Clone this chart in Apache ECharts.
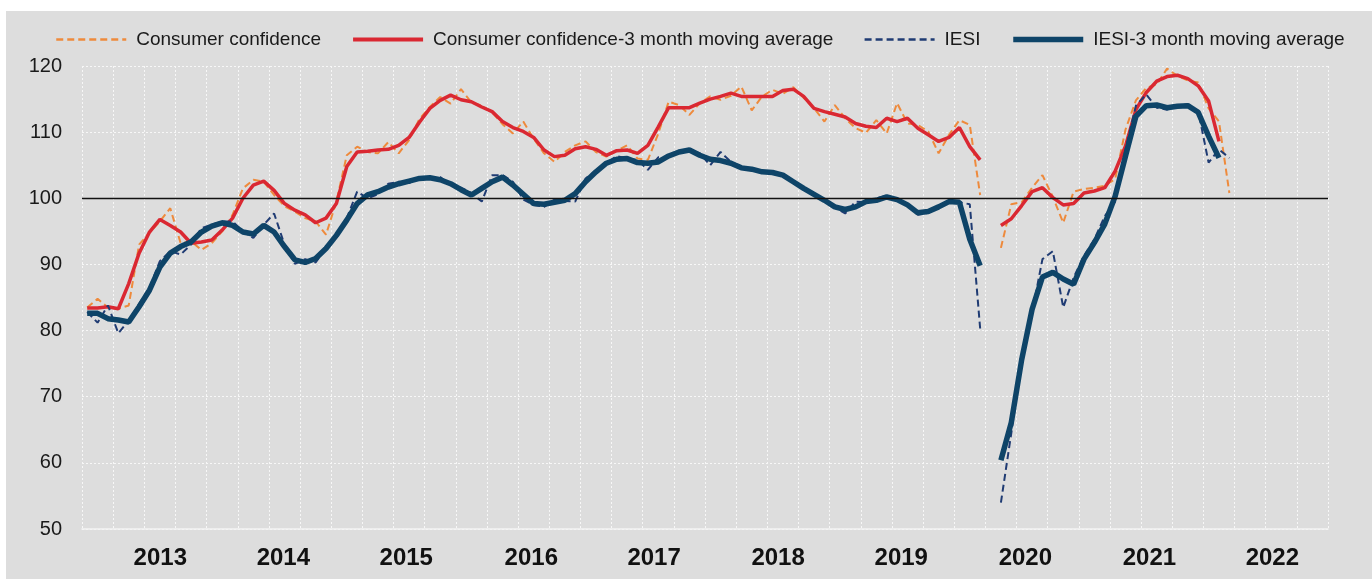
<!DOCTYPE html>
<html>
<head>
<meta charset="utf-8">
<script src="https://cdn.jsdelivr.net/npm/echarts@6/dist/echarts.min.js"></script>
<style>
  html, body { margin: 0; padding: 0; background: #ffffff; }
  #container { position: absolute; left: 6px; top: 11px; width: 1366px; height: 568px; background: #dddddd; }
</style>
</head>
<body>
<div id="container"></div>
<script>
var dom = document.getElementById("container");
var myChart = echarts.init(dom);
var option = null;

var fontMain = "'Liberation Sans', Arial, sans-serif";

// month categories Jan 2013 .. Dec 2022
var years = [2013, 2014, 2015, 2016, 2017, 2018, 2019, 2020, 2021, 2022];
var monthNames = ['01', '02', '03', '04', '05', '06', '07', '08', '09', '10', '11', '12'];
var months = [];
years.forEach(function (y) {
	monthNames.forEach(function (m) { months.push(y + '-' + m); });
});

// where the year labels sit, in months from the left edge of the axis
var yearLabelPos = [7.54, 19.39, 31.23, 43.27, 55.1, 67.04, 78.9, 90.85, 102.8, 114.64];

var consumerConfidence = [
	83.5, 84.8, 83.5, 83.3, 83.8, 93.0, 94.8, 96.5, 98.5, 93.2,
	93.5, 92.2, 93.2, 95.0, 97.5, 101.5, 102.8, 102.5, 100.5, 98.8,
	98.0, 97.0, 96.5, 94.5, 99.5, 106.5, 107.8, 107.0, 106.8, 108.5,
	106.8, 108.8, 112.0, 113.8, 115.3, 114.3, 116.5, 114.5, 114.0, 113.0,
	111.2, 109.8, 111.6, 109.0, 106.8, 105.5, 107.0, 108.0, 108.6, 107.0,
	106.3, 107.2, 108.0, 106.0, 105.8, 109.8, 114.6, 114.1, 112.6, 114.4,
	115.4, 114.9, 115.5, 116.9, 113.3, 115.4, 116.4, 115.8, 116.8, 115.2,
	113.6, 111.6, 114.1, 112.1, 110.6, 109.9, 111.8, 109.8, 114.4, 111.3,
	111.1, 110.1, 106.8, 109.6, 111.8, 111.1, 100.5, null, 92.5, 99.1,
	99.4, 101.6, 103.5, 100.2, 96.3, 101.0, 101.4, 101.6, 101.9, 102.9,
	110.4, 114.8, 116.7, 117.2, 119.6, 118.5, 117.8, 117.5, 113.6, 111.6,
	100.8
];

var consumerConfidenceMA = [
	83.4, 83.4, 83.6, 83.3, 87.1, 91.7, 94.9, 96.8, 95.9, 94.9,
	93.2, 93.4, 93.7, 95.2, 97.0, 100.0, 102.0, 102.6, 101.2, 99.2,
	98.2, 97.5, 96.3, 97.0, 99.2, 104.8, 107.0, 107.1, 107.3, 107.4,
	108.0, 109.2, 111.5, 113.6, 114.8, 115.6, 114.9, 114.6, 113.8, 113.1,
	111.6, 110.7, 110.1, 109.2, 107.3, 106.3, 106.5, 107.5, 107.8, 107.4,
	106.5, 107.2, 107.3, 106.8, 108.0, 110.8, 113.7, 113.7, 113.7, 114.4,
	115.0, 115.4, 115.9, 115.4, 115.4, 115.4, 115.4, 116.3, 116.5, 115.4,
	113.6, 113.1, 112.7, 112.3, 111.3, 110.9, 110.7, 112.1, 111.6, 112.1,
	110.6, 109.6, 108.6, 109.2, 110.7, 107.8, 105.8, null, 95.9, 96.9,
	98.9, 101.0, 101.6, 100.1, 99.0, 99.2, 100.8, 101.1, 101.6, 104.1,
	107.9, 113.4, 116.0, 117.7, 118.4, 118.6, 118.1, 117.0, 114.7, 108.6,
	null
];

var iesi = [
	82.8, 81.2, 83.8, 79.6, 81.5, 84.0, 86.5, 90.5, 92.0, 91.5,
	93.0, 95.5, 96.0, 96.5, 96.5, 95.0, 94.0, 96.0, 97.7, 93.0,
	90.1, 90.8, 90.3, 92.5, 94.5, 97.0, 101.0, 100.0, 100.6, 102.2,
	102.5, 102.3, 103.2, 103.0, 103.2, 102.0, 101.6, 100.8, 99.5, 103.5,
	103.5, 102.5, 99.8, 99.0, 98.7, 99.8, 99.6, 99.5, 103.0, 104.2,
	105.3, 106.4, 106.0, 105.8, 104.3, 106.2, 106.2, 107.2, 107.2, 106.8,
	105.0, 107.0, 105.5, 104.6, 104.2, 104.0, 104.0, 103.3, 102.8, 101.3,
	100.5, 99.6, 98.6, 97.7, 99.5, 99.4, 100.0, 100.4, 99.9, 99.2,
	97.5, 97.8, 98.8, 99.6, 99.4, 99.1, 80.3, null, 54.0, 64.5,
	75.6, 82.7, 90.8, 92.0, 83.5, 88.0, 91.3, 93.8, 97.3, 99.5,
	107.4, 114.0, 115.7, 113.7, 113.4, 114.0, 114.2, 113.2, 105.4, 107.4,
	106.1
];

var iesiMA = [
	82.6, 82.6, 81.8, 81.6, 81.3, 83.6, 86.1, 89.6, 91.7, 92.7,
	93.4, 94.9, 95.8, 96.3, 95.9, 94.9, 94.6, 95.9, 94.9, 92.7,
	90.7, 90.3, 90.9, 92.4, 94.4, 96.7, 99.2, 100.5, 101.0, 101.7,
	102.2, 102.6, 103.0, 103.1, 102.8, 102.2, 101.3, 100.5, 101.5, 102.5,
	103.2, 102.0, 100.6, 99.2, 99.1, 99.4, 99.7, 100.7, 102.5, 104.0,
	105.3, 105.9, 106.0, 105.4, 105.3, 105.5, 106.4, 107.0, 107.3, 106.5,
	105.9, 105.7, 105.3, 104.6, 104.4, 104.0, 103.9, 103.5, 102.5, 101.5,
	100.6, 99.7, 98.7, 98.3, 98.7, 99.5, 99.7, 100.2, 99.8, 99.0,
	97.8, 98.0, 98.7, 99.5, 99.4, 93.8, 89.8, null, 60.4, 66.1,
	75.6, 83.2, 88.1, 88.8, 87.8, 87.0, 90.8, 93.3, 96.1, 100.3,
	106.4, 112.4, 114.0, 114.1, 113.7, 113.9, 114.0, 113.0, 109.4, 106.1,
	null
];

var seriesNames = [
	'Consumer confidence',
	'Consumer confidence-3 month moving average',
	'IESI',
	'IESI-3 month moving average'
];

option = {
	animation: false,
	backgroundColor: 'transparent',
	legend: {
		left: 44,
		top: 14,
		itemWidth: 70,
		itemHeight: 14,
		itemGap: 30,
		itemStyle: { opacity: 0 },
		textStyle: {
			fontFamily: fontMain,
			fontSize: 19,
			color: '#1a1a1a',
			padding: [0, 0, 0, 5]
		},
		data: [
			{ name: seriesNames[0], lineStyle: { width: 2.5 } },
			{ name: seriesNames[1], lineStyle: { width: 4 } },
			{ name: seriesNames[2], lineStyle: { width: 2.5 } },
			{ name: seriesNames[3], lineStyle: { width: 5.5 } }
		]
	},
	grid: {
		left: 76,
		right: 44,
		top: 55,
		bottom: 50,
		containLabel: false
	},
	xAxis: [{
		type: 'category',
		data: months,
		boundaryGap: true,
		axisLine: { show: true, lineStyle: { color: '#f4f4f4', width: 1.5 } },
		axisTick: { show: false },
		axisLabel: { show: false },
		splitLine: {
			show: true,
			interval: function (index) { return index % 3 === 0; },
			lineStyle: { color: '#f7f7f7', type: [2, 2], width: 1 }
		}
	}, {
		type: 'value',
		min: 0,
		max: 120,
		position: 'bottom',
		axisLine: { show: false },
		axisTick: { show: false },
		splitLine: { show: false },
		axisLabel: {
			show: true,
			customValues: yearLabelPos,
			margin: 17,
			fontFamily: fontMain,
			fontWeight: 'bold',
			fontSize: 24,
			color: '#111',
			formatter: function (value) {
				var idx = yearLabelPos.indexOf(value);
				return idx >= 0 ? String(years[idx]) : '';
			}
		}
	}],
	yAxis: {
		type: 'value',
		min: 50,
		max: 120,
		interval: 10,
		axisLine: { show: false },
		axisTick: { show: false },
		axisLabel: {
			margin: 20,
			fontFamily: fontMain,
			fontSize: 20,
			color: '#1a1a1a'
		},
		splitLine: {
			show: true,
			lineStyle: { color: '#f7f7f7', type: [2, 2], width: 1 }
		}
	},
	series: [{
		name: seriesNames[0],
		type: 'line',
		data: consumerConfidence,
		symbol: 'none',
		color: '#ee8a3c',
		lineStyle: { color: '#ee8a3c', width: 2, type: [7, 4] },
		markLine: {
			silent: true,
			symbol: 'none',
			label: { show: false },
			lineStyle: { color: '#111', type: 'solid', width: 1.3 },
			data: [{ yAxis: 100 }]
		}
	}, {
		name: seriesNames[1],
		type: 'line',
		data: consumerConfidenceMA,
		symbol: 'none',
		color: '#da2832',
		lineStyle: { color: '#da2832', width: 3.5 }
	}, {
		name: seriesNames[2],
		type: 'line',
		data: iesi,
		symbol: 'none',
		color: '#1f3b73',
		lineStyle: { color: '#1f3b73', width: 2, type: [7, 4] }
	}, {
		name: seriesNames[3],
		type: 'line',
		data: iesiMA,
		symbol: 'none',
		color: '#0e4468',
		lineStyle: { color: '#0e4468', width: 5.5 }
	}]
};

if (option && typeof option === "object") {
	myChart.setOption(option, true);
}
</script>
</body>
</html>
